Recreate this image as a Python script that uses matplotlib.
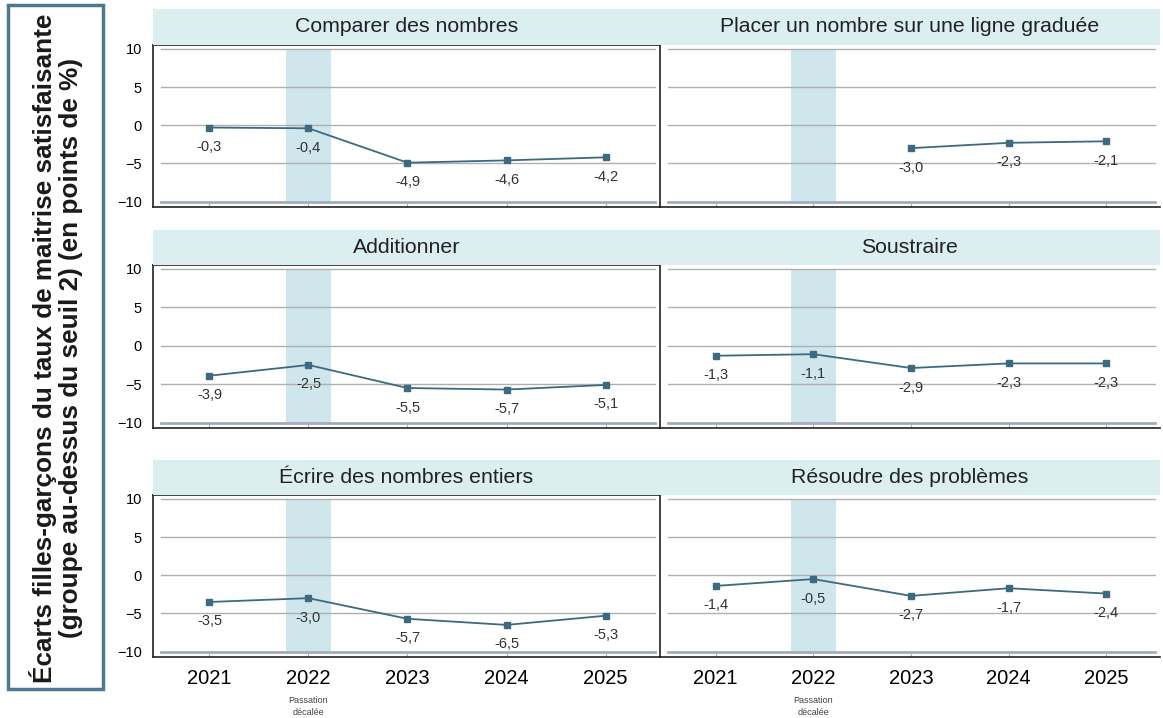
import matplotlib.pyplot as plt
from matplotlib.patches import Rectangle
import numpy as np

# Données
annees = ["2021", "2022", "2023", "2024", "2025"]
titres = ["Comparer des nombres", "Placer un nombre sur une ligne graduée",
          "Additionner", "Soustraire",
          "Écrire des nombres entiers", "Résoudre des problèmes"]
comparer = [-0.3, -0.4, -4.9, -4.6, -4.2]
placer = [np.nan, np.nan, -3.0, -2.3, -2.1]
additionner = [-3.9, -2.5, -5.5, -5.7, -5.1]
soustraire = [-1.3, -1.1, -2.9, -2.3, -2.3]
ecrire = [-3.5, -3.0, -5.7, -6.5, -5.3]
resoudre = [-1.4, -0.5, -2.7, -1.7, -2.4]
series = [comparer, placer, additionner, soustraire, ecrire, resoudre]
annee_decalee = 1  # 2022

W, H = 1163, 718
fig = plt.figure(figsize=(W / 100, H / 100), dpi=100)
plt.rcParams['font.family'] = ['Liberation Sans', 'DejaVu Sans']

couleur = '#3d6a80'
bande = '#cfe7ec'
fond_titre = '#dbeef0'


def px(x0, y0, x1, y1):
    return [x0 / W, 1 - y1 / H, (x1 - x0) / W, (y1 - y0) / H]


rangs = [(9, 45, 207), (230, 265, 428), (460, 495, 657)]
colonnes = [(153, 660), (660, 1160)]

for r, (yb, y0, y1) in enumerate(rangs):
    fig.patches.append(Rectangle((153 / W, 1 - y0 / H), (1160 - 153) / W, (y0 - yb) / H,
                                 transform=fig.transFigure, facecolor=fond_titre,
                                 edgecolor='none', zorder=0))
    for c, (x0, x1) in enumerate(colonnes):
        i = r * 2 + c
        ax = fig.add_axes(px(x0, y0, x1, y1))
        ax.set_facecolor('none')
        vals = series[i]
        x = np.arange(len(annees))
        ax.set_xlim(-0.57, 4.55)
        ax.set_ylim(-10.7, 10.5)
        ax.axvspan(annee_decalee - 0.23, annee_decalee + 0.23, ymin=(-10 + 10.7) / 21.2,
                   ymax=(10 + 10.7) / 21.2, color=bande, zorder=0, lw=0)
        for g in [10, 5, 0, -5]:
            ax.axhline(g, xmin=0.015, xmax=0.99, color='#b0b0b0', lw=1, zorder=1)
        ax.axhline(-10, xmin=0.015, xmax=0.99, color='#a3acbf', lw=2, zorder=1)
        ax.plot(x, vals, color=couleur, lw=1.3, marker='s', markersize=5, zorder=3)
        for xi, v in zip(x, vals):
            if not np.isnan(v):
                ax.annotate(f"{v:.1f}".replace('.', ','), (xi, v), xytext=(0, -9),
                            textcoords='offset points', ha='center', va='top',
                            fontsize=10.5, color='#333333')
        ax.set_xticks(x)
        ax.tick_params(axis='x', direction='in', length=4, color='#b0b0b0')
        if r == 2:
            ax.set_xticklabels(annees, fontsize=14.5)
            ax.tick_params(axis='x', pad=9)
            ax.text(annee_decalee, -0.24, "Passation\ndécalée", transform=ax.get_xaxis_transform(),
                    ha='center', va='top', fontsize=6.5, color='#444444', linespacing=1.4)
        else:
            ax.set_xticklabels([])
        if c == 0:
            ax.set_yticks([10, 5, 0, -5, -10])
            ax.tick_params(axis='y', length=0, labelsize=10.5, pad=8)
            for s in ax.spines.values():
                s.set_color('#222222')
                s.set_linewidth(1.2)
        else:
            ax.set_yticks([])
            for k in ['left', 'top', 'right']:
                ax.spines[k].set_visible(False)
            ax.spines['bottom'].set_color('#222222')
            ax.spines['bottom'].set_linewidth(1.2)
        fig.text((x0 + x1) / 2 / W, 1 - (yb + y0) / 2 / H, titres[i], ha='center',
                 va='center', fontsize=15.3, color='#222222')

# Cadre du titre de l'axe
fig.patches.append(Rectangle((8 / W, 1 - 689 / H), 95 / W, 684 / H, transform=fig.transFigure,
                             facecolor='white', edgecolor='#4d7890', lw=2.5))
fig.text(56 / W, 1 - 348 / H,
         "Écarts filles-garçons du taux de maitrise satisfaisante\n(groupe au-dessus du seuil 2) (en points de %)",
         rotation=90, ha='center', va='center', fontsize=18.8, fontweight='bold',
         color='#1a1a1a', linespacing=1.15)

fig.savefig('out.png', dpi=100)
